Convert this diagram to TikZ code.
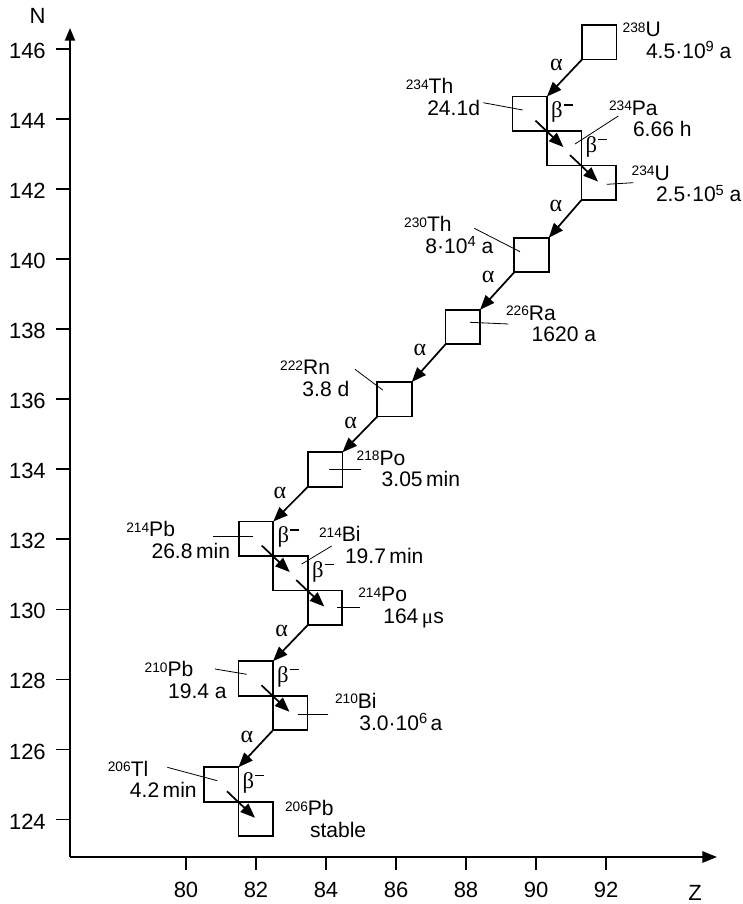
\documentclass[tikz,border=0pt]{standalone}
\usepackage{fontspec}
\setmainfont{Liberation Sans}
\newfontfamily\grk{Liberation Serif}
\usetikzlibrary{arrows.meta,calc}
\newcommand\ms[1]{\raisebox{3.2pt}{\fontsize{10.3}{10.3}\selectfont #1}}
\newcommand\ex[1]{\raisebox{4.8pt}{\fontsize{11}{11}\selectfont #1}}
\newcommand\bminus{{\grk β\hspace{0.8pt}\raisebox{9.2pt}{\rule{6.8pt}{0.9pt}}}}
\begin{document}
\begin{tikzpicture}[x=0.75pt,y=-0.75pt,
  nbox/.style={draw, line width=1.3pt, minimum size=25.9pt, inner sep=0pt, outer sep=0pt},
  lbl/.style={inner sep=0pt, outer sep=0pt, font=\fontsize{15.8}{18}\selectfont},
  lblR/.style={lbl, anchor=base west},
  lblL/.style={lbl, anchor=base east},
  alphaarrow/.style={line width=1.3pt, -{Triangle[length=11pt,width=8.5pt]}},
  betaarrow/.style={line width=1.3pt, -{Triangle[length=11pt,width=8.5pt]}},
  alab/.style={inner sep=0pt, font=\fontsize{18}{18}\selectfont\grk},
  blab/.style={inner sep=0pt, anchor=west, font=\fontsize{17}{17}\selectfont},
  leader/.style={line width=0.6pt},
  axisline/.style={line width=1.5pt},
  tick/.style={line width=1.3pt},
  axlbl/.style={inner sep=0pt, font=\fontsize{16.5}{18}\selectfont}]
\useasboundingbox (0,0) rectangle (743,904);
\fill[white] (0,0) rectangle (743,904);

% axes
\coordinate (O) at (70,857);
\coordinate (Ytop) at (70,28);
\coordinate (Xend) at (717,857);
\draw[axisline,-{Triangle[length=9.5pt,width=7.5pt]}] (O) -- (Ytop);
\draw[axisline,-{Triangle[length=11pt,width=8.5pt]}] (O) -- (Xend);
\foreach \n [count=\i from 0] in {146,144,...,124} {
  \draw[tick] (56,{49+\i*70.05}) -- (70,{49+\i*70.05});
  \node[axlbl, anchor=base east] (yl\n) at (46,{58.5+\i*70.05}) {\n};
}
\foreach \z in {80,82,...,92} {
  \draw[tick] ({186+(\z-80)*35},857) -- ({186+(\z-80)*35},870);
  \node[axlbl, anchor=base] (xl\z) at ({186+(\z-80)*35},897) {\z};
}
\node[axlbl, anchor=base] (Nlab) at (37.5,23) {N};
\node[axlbl, anchor=base] (Zlab) at (695,900) {Z};

% nuclide boxes
\node[nbox] (U238)  at (599.2,42.3) {};
\node[nbox] (Th234) at (529.7,113.8) {};
\node[nbox] (Pa234) at (564.2,148.3) {};
\node[nbox] (U234)  at (598.7,182.8) {};
\node[nbox] (Th230) at (531.5,255) {};
\node[nbox] (Ra226) at (462.8,327) {};
\node[nbox] (Rn222) at (394.5,399.3) {};
\node[nbox] (Po218) at (325.2,469.5) {};
\node[nbox] (Pb214) at (256,538.8) {};
\node[nbox] (Bi214) at (290.5,573.3) {};
\node[nbox] (Po214) at (325,607.8) {};
\node[nbox] (Pb210) at (255.7,678.5) {};
\node[nbox] (Bi210) at (290.2,713) {};
\node[nbox] (Tl206) at (221.2,784.5) {};
\node[nbox] (Pb206) at (255.7,819) {};

% alpha decays
\draw[alphaarrow] (U238.south west) -- (Th234.north east);
\draw[alphaarrow] (U234.south west) -- (Th230.north east);
\draw[alphaarrow] (Th230.south west) -- (Ra226.north east);
\draw[alphaarrow] (Ra226.south west) -- (Rn222.north east);
\draw[alphaarrow] (Rn222.south west) -- (Po218.north east);
\draw[alphaarrow] (Po218.south west) -- (Pb214.north east);
\draw[alphaarrow] (Po214.south west) -- (Pb210.north east);
\draw[alphaarrow] (Bi210.south west) -- (Tl206.north east);
\node[alab] (a1) at ($(U238.south west)+(-25.5,5)$) {α};
\node[alab] (a2) at ($(U234.south west)+(-25.5,5.5)$) {α};
\node[alab] (a3) at ($(Th230.south west)+(-26,5)$) {α};
\node[alab] (a4) at ($(Ra226.south west)+(-25.5,6)$) {α};
\node[alab] (a5) at ($(Rn222.south west)+(-26.5,6)$) {α};
\node[alab] (a6) at ($(Po218.south west)+(-28,6)$) {α};
\node[alab] (a7) at ($(Po214.south west)+(-26,6)$) {α};
\node[alab] (a8) at ($(Bi210.south west)+(-26,7)$) {α};

% beta decays
\foreach \p in {Th234,Pa234,Pb214,Bi214,Pb210,Tl206} {
  \draw[betaarrow] ($(\p.south east)+(-11.5,-10.5)$) -- ($(\p.south east)+(16.5,16)$);
  \node[blab] (b\p) at ($(\p.east)+(4,-1.5)$) {\bminus};
}

% labels
\node[lblR] (t238a) at (622.7,36.7) {\ms{238}U};
\node[lblR] (t238b) at (646,58.3) {4.5·10\ex{9} a};
\node[lblL] (t234Tha) at (453.3,93.3) {\ms{234}Th};
\node[lblL] (t234Thb) at (480,115) {24.1d};
\node[lblR] (t234Paa) at (609,115) {\ms{234}Pa};
\node[lblR] (t234Pab) at (633,136.7) {6.66 h};
\node[lblR] (t234Ua) at (631.7,180) {\ms{234}U};
\node[lblR] (t234Ub) at (656,201.7) {2.5·10\ex{5} a};
\node[lblL] (t230a) at (451.7,231.7) {\ms{230}Th};
\node[lblL] (t230b) at (493.3,253.3) {8·10\ex{4} a};
\node[lblR] (t226a) at (506,320) {\ms{226}Ra};
\node[lblR] (t226b) at (531.7,341.7) {1620 a};
\node[lblL] (t222a) at (330,374.3) {\ms{222}Rn};
\node[lblL] (t222b) at (349.3,396) {3.8 d};
\node[lblR] (t218a) at (356.7,465) {\ms{218}Po};
\node[lblR] (t218b) at (381.7,486.7) {3.05\,min};
\node[lblL] (t214Pba) at (175,536.7) {\ms{214}Pb};
\node[lblL] (t214Pbb) at (230,558.3) {26.8\,min};
\node[lblR] (t214Bia) at (319,541.7) {\ms{214}Bi};
\node[lblR] (t214Bib) at (345,563.3) {19.7\,min};
\node[lblR] (t214Poa) at (358.3,601.7) {\ms{214}Po};
\node[lblR] (t214Pob) at (383.3,623.3) {164\,{\grk μ}s};
\node[lblL] (t210Pba) at (193.3,676.7) {\ms{210}Pb};
\node[lblL] (t210Pbb) at (226.7,698.3) {19.4 a};
\node[lblR] (t210Bia) at (335,708) {\ms{210}Bi};
\node[lblR] (t210Bib) at (359.3,730) {3.0·10\ex{6}\,a};
\node[lblL] (t206Tla) at (148.3,776) {\ms{206}Tl};
\node[lblL] (t206Tlb) at (196.7,797.7) {4.2\,min};
\node[lblR] (t206Pba) at (285,815.5) {\ms{206}Pb};
\node[lblR] (t206Pbb) at (310,837) {stable};

% leader lines
\coordinate (lTh234o) at (483.3,102.7); \coordinate (lTh234i) at (522.7,110);
\coordinate (lPa234o) at (618.3,116);   \coordinate (lPa234i) at (575,144);
\coordinate (lU234o)  at (633.3,182.7); \coordinate (lU234i)  at (606.7,184.3);
\coordinate (lTh230o) at (474.3,228.3); \coordinate (lTh230i) at (520,251.7);
\coordinate (lRa226o) at (508.3,324);   \coordinate (lRa226i) at (470,322.3);
\coordinate (lRn222o) at (355,369.3);   \coordinate (lRn222i) at (382.7,390);
\coordinate (lPo218o) at (360.7,469.3); \coordinate (lPo218i) at (329.3,469.3);
\coordinate (lPb214o) at (213.3,536);   \coordinate (lPb214i) at (253.3,536);
\coordinate (lBi214o) at (331.7,546);   \coordinate (lBi214i) at (301.7,564);
\coordinate (lPo214o) at (360,607.3);   \coordinate (lPo214i) at (336.7,607.3);
\coordinate (lPb210o) at (215,669);     \coordinate (lPb210i) at (246.7,674.3);
\coordinate (lBi210o) at (328.3,714);   \coordinate (lBi210i) at (298.3,714);
\coordinate (lTl206o) at (167.3,767.3); \coordinate (lTl206i) at (217.3,780.7);
\foreach \q in {Th234,Pa234,U234,Th230,Ra226,Rn222,Po218,Pb214,Bi214,Po214,Pb210,Bi210,Tl206}
  \draw[leader] (l\q o) -- (l\q i);
\end{tikzpicture}
\end{document}
